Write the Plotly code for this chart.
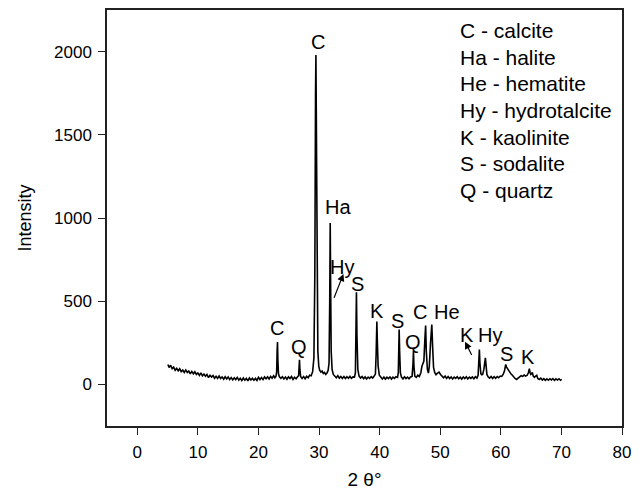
import plotly.graph_objects as go

# 2-theta (degrees) and intensity
two_theta = [
    5.05, 5.25, 5.5, 5.75, 6.0, 6.25, 6.5, 6.75, 7.0, 7.25, 7.5, 7.75, 8.0, 8.25, 8.5, 8.75,
    9.0, 9.25, 9.5, 9.75, 10.0, 10.25, 10.5, 10.75, 11.0, 11.25, 11.5, 11.75, 12.0, 12.25, 12.5, 12.75,
    13.0, 13.25, 13.5, 13.75, 14.0, 14.25, 14.5, 14.75, 15.0, 15.25, 15.5, 15.75, 16.0, 16.25, 16.5, 16.75,
    17.0, 17.25, 17.5, 17.75, 18.0, 18.25, 18.5, 18.75, 19.0, 19.25, 19.5, 19.75, 20.0, 20.25, 20.5, 20.75,
    21.0, 21.25, 21.5, 21.75, 22.0, 22.25, 22.5, 22.7, 22.9,
    23.0, 23.08, 23.14, 23.2, 23.3, 23.45, 23.7, 23.95, 24.2, 24.45, 24.7, 24.95, 25.2, 25.45, 25.7, 25.95,
    26.2, 26.45, 26.62, 26.7, 26.77, 26.84, 26.95, 27.2, 27.45, 27.7, 27.95, 28.2, 28.45, 28.7, 28.95,
    29.15, 29.3, 29.42, 29.48, 29.55, 29.65, 29.8, 29.95, 30.1, 30.3, 30.5, 30.7, 30.9, 31.1, 31.3, 31.5,
    31.65, 31.76, 31.84, 31.9, 32.0, 32.15, 32.35, 32.6, 32.85, 33.1, 33.35, 33.6, 33.85, 34.1, 34.35, 34.6,
    34.85, 35.1, 35.35, 35.6, 35.85, 36.0, 36.1, 36.17, 36.25, 36.4, 36.6, 36.85, 37.1, 37.35, 37.6, 37.85,
    38.1, 38.35, 38.6, 38.85, 39.1, 39.3, 39.42, 39.5, 39.54, 39.62, 39.75, 39.95, 40.2, 40.45, 40.7, 40.95,
    41.2, 41.45, 41.7, 41.95, 42.2, 42.45, 42.7, 42.95, 43.08, 43.16, 43.22, 43.3, 43.42, 43.6, 43.85, 44.1,
    44.35, 44.6, 44.85, 45.1, 45.35, 45.5, 45.58, 45.66, 45.8, 46.05, 46.3, 46.55, 46.8, 46.98, 47.13, 47.3,
    47.45, 47.59, 47.7, 47.88, 48.05, 48.2, 48.4, 48.61, 48.75, 48.9, 49.1, 49.3, 49.5, 49.8, 50.05, 50.3,
    50.55, 50.8, 51.05, 51.3, 51.55, 51.8, 52.05, 52.3, 52.55, 52.8, 53.05, 53.3, 53.55, 53.8, 54.05, 54.3,
    54.55, 54.8, 55.05, 55.3, 55.55, 55.8, 56.05, 56.25, 56.38, 56.46, 56.55, 56.7, 56.85, 57.0, 57.2, 57.35,
    57.45, 57.55, 57.7, 57.9, 58.15, 58.4, 58.65, 58.9, 59.15, 59.4, 59.65, 59.9, 60.15, 60.4, 60.6, 60.75,
    60.82, 60.92, 61.1, 61.3, 61.5, 61.7, 61.9, 62.1, 62.35, 62.6, 62.85, 63.1, 63.35, 63.6, 63.85, 64.1,
    64.35, 64.55, 64.65, 64.71, 64.82, 64.95, 65.1, 65.2, 65.35, 65.55, 65.75, 65.93, 66.1, 66.35, 66.6, 66.85,
    67.1, 67.35, 67.6, 67.85, 68.1, 68.35, 68.6, 68.85, 69.1, 69.35, 69.6, 69.85, 70.05,
]
intensity = [
    120, 102, 115, 95, 104, 85, 96, 82, 94, 77, 86, 72, 87, 72, 80, 63,
    78, 64, 76, 60, 69, 54, 69, 51, 62, 49, 60, 41, 55, 44, 53, 37,
    49, 36, 50, 36, 45, 31, 46, 33, 45, 29, 41, 27, 40, 29, 42, 26,
    37, 23, 38, 25, 36, 21, 38, 26, 37, 25, 36, 24, 42, 29, 41, 29,
    45, 34, 45, 32, 48, 37, 52, 40, 50,
    75, 200, 254, 150, 65, 46, 36, 46, 33, 44, 31, 45, 35, 47, 30, 43,
    34, 46, 52, 100, 148, 90, 48, 36, 47, 34, 49, 40, 55, 52, 78,
    160, 650, 1750, 1980, 1600, 650, 200, 110, 85, 74, 80, 66, 72, 60, 68, 85,
    130, 500, 970, 650, 200, 90, 60, 50, 40, 52, 38, 48, 36, 47, 35, 46,
    37, 48, 36, 45, 44, 70, 300, 554, 300, 90, 50, 38, 47, 34, 45, 33,
    44, 36, 47, 38, 50, 62, 180, 340, 378, 260, 110, 55, 42, 33, 44, 31,
    43, 35, 45, 32, 44, 36, 46, 42, 70, 220, 330, 200, 70, 44, 33, 46,
    35, 44, 34, 45, 48, 120, 200, 110, 50, 42, 55, 48, 70, 110, 126, 140,
    260, 354, 200, 90, 68, 110, 250, 360, 220, 100, 70, 58, 66, 74, 60, 48,
    40, 50, 36, 47, 35, 45, 33, 44, 36, 46, 34, 43, 32, 45, 35, 46,
    33, 44, 36, 45, 34, 46, 38, 55, 150, 210, 130, 65, 58, 60, 90, 150,
    160, 120, 60, 46, 38, 48, 36, 46, 37, 47, 40, 50, 48, 62, 80, 110,
    120, 105, 95, 78, 70, 62, 55, 45, 36, 30, 38, 44, 52, 48, 56, 50,
    55, 70, 85, 94, 72, 60, 65, 72, 50, 42, 50, 55, 36, 30, 38, 26,
    34, 24, 33, 25, 34, 27, 35, 24, 33, 26, 34, 25, 30,
]

# Phase labels on peaks
peak_labels = ["C", "Ha", "Hy", "S", "C", "Q", "K", "S", "Q", "C", "He", "K", "Hy", "S", "K"]
peak_label_x = [29.9, 33.2, 33.77, 36.34, 23.04, 26.67, 39.64, 43.0, 45.48, 46.68, 51.08, 54.38, 58.23, 60.98, 64.54]
peak_label_y = [2060, 1064, 704, 604, 341, 227, 443, 383, 257, 437, 437, 297, 297, 183, 167]

# Arrows (tail -> head)
arrow_tail_x = [32.38, 55.31]
arrow_tail_y = [512, 167]
arrow_head_x = [34.03, 54.1]
arrow_head_y = [664, 257]

# Key
key_labels = ["C - calcite", "Ha - halite", "He - hematite", "Hy - hydrotalcite",
              "K - kaolinite", "S - sodalite", "Q - quartz"]
key_x = 53.0
key_y = [2126, 1966, 1806, 1646, 1486, 1325, 1165]

FONT = "Arial, Liberation Sans, sans-serif"

fig = go.Figure()
fig.add_trace(go.Scatter(x=two_theta, y=intensity, mode="lines",
                         line=dict(color="black", width=1.6), showlegend=False))

ann = []
for t, x, y in zip(peak_labels, peak_label_x, peak_label_y):
    ann.append(dict(x=x, y=y, xref="x", yref="y", text=t, showarrow=False,
                    font=dict(family=FONT, size=20, color="black"),
                    xanchor="center", yanchor="middle"))
for tx, ty, hx, hy in zip(arrow_tail_x, arrow_tail_y, arrow_head_x, arrow_head_y):
    ann.append(dict(x=hx, y=hy, ax=tx, ay=ty, xref="x", yref="y", axref="x", ayref="y",
                    text="", showarrow=True, arrowhead=2, arrowsize=1.2, arrowwidth=1.2,
                    arrowcolor="black"))
for t, y in zip(key_labels, key_y):
    ann.append(dict(x=key_x, y=y, xref="x", yref="y", text=t, showarrow=False,
                    font=dict(family=FONT, size=21, color="black"),
                    xanchor="left", yanchor="middle"))

axis_common = dict(showline=True, linecolor="#222", linewidth=1.5, mirror=True,
                   ticks="outside", ticklen=7, tickwidth=1.3, tickcolor="#222",
                   showgrid=False, zeroline=False, ticklabelstandoff=3, automargin=False,
                   tickfont=dict(family=FONT, size=17, color="black"))

fig.update_layout(
    width=642, height=490,
    margin=dict(l=107, r=20, t=10, b=64),
    paper_bgcolor="white", plot_bgcolor="white",
    annotations=ann,
    xaxis=dict(range=[-5, 80], tickvals=[0, 10, 20, 30, 40, 50, 60, 70, 80],
               title=dict(text="2 θ°", font=dict(family=FONT, size=19, color="black"), standoff=14),
               **axis_common),
    yaxis=dict(range=[-250, 2250], tickvals=[0, 500, 1000, 1500, 2000],
               title=dict(text="Intensity", font=dict(family=FONT, size=18, color="black"), standoff=18),
               **axis_common),
)

fig.write_html("out.html")
